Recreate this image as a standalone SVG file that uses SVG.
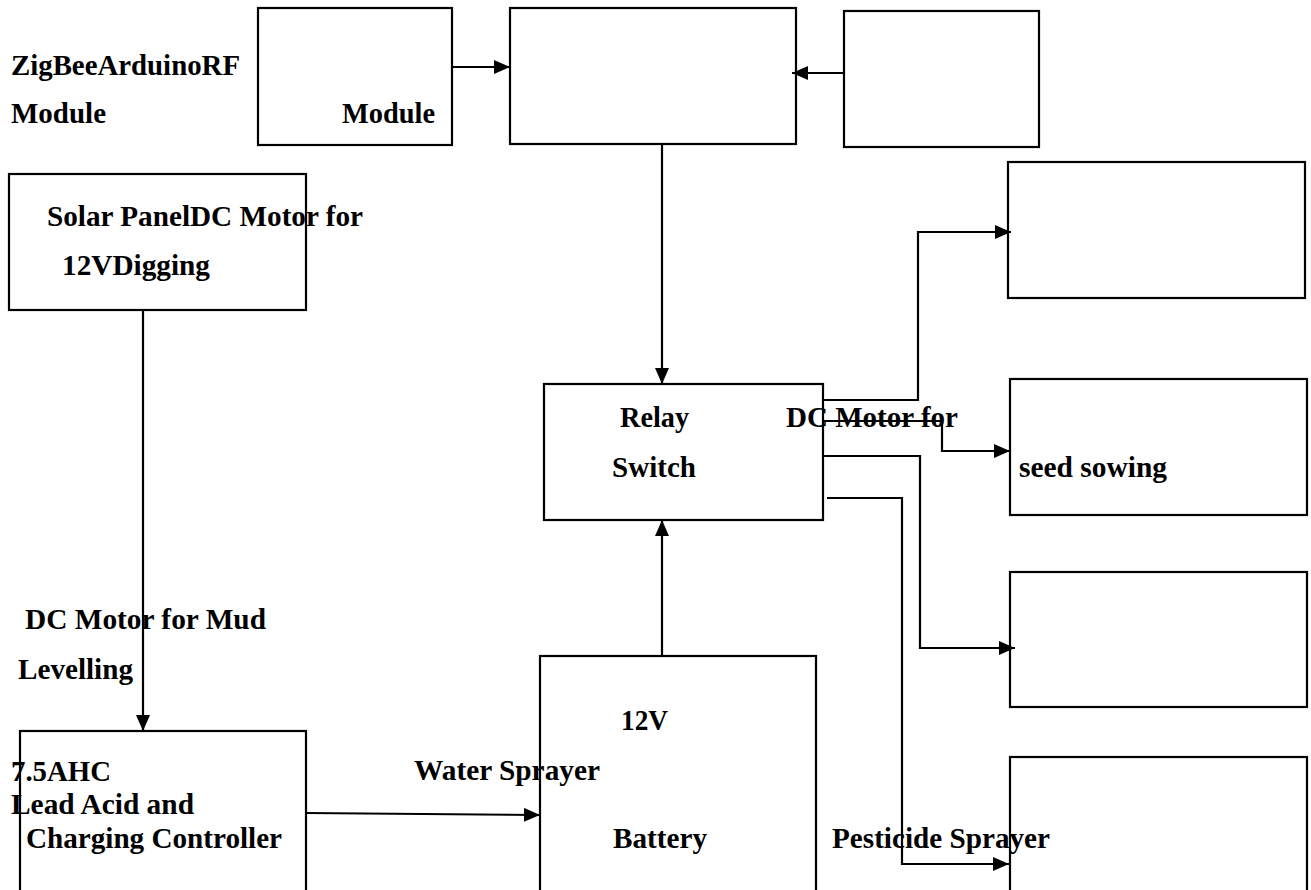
<svg xmlns="http://www.w3.org/2000/svg" width="1311" height="890" viewBox="0 0 1311 890">
<style>
.box{fill:none;stroke:#000;stroke-width:2.2}
.ln{fill:none;stroke:#000;stroke-width:2.2}
.t{font-family:"Liberation Serif","Times New Roman",serif;font-weight:bold;font-size:29px;fill:#000}
</style>
<defs>
<marker id="ah" markerUnits="userSpaceOnUse" markerWidth="16" markerHeight="14" refX="16" refY="7" orient="auto">
<path d="M0,0 L16,7 L0,14 z" fill="#000"/>
</marker>
</defs>
<rect width="1311" height="890" fill="#fff"/>
<g id="connectors">
<line class="ln" x1="452" y1="67" x2="510" y2="67" marker-end="url(#ah)"/>
<line class="ln" x1="844" y1="73" x2="792" y2="73" marker-end="url(#ah)"/>
<line class="ln" x1="662" y1="144" x2="662" y2="384" marker-end="url(#ah)"/>
<line class="ln" x1="143" y1="310" x2="143" y2="731" marker-end="url(#ah)"/>
<line class="ln" x1="662" y1="656" x2="662" y2="520" marker-end="url(#ah)"/>
<line class="ln" x1="306" y1="813" x2="540" y2="815" marker-end="url(#ah)"/>
<polyline class="ln" points="823,400 918,400 918,232 1011,232" marker-end="url(#ah)"/>
<polyline class="ln" points="823,421 942,421 942,451 1010,451" marker-end="url(#ah)"/>
<polyline class="ln" points="823,456 920,456 920,648 1015,648" marker-end="url(#ah)"/>
<polyline class="ln" points="827,498 902,498 902,864 1009,864" marker-end="url(#ah)"/>
</g>
<g id="arduino">
<rect class="box" x="258" y="8" width="194" height="137"/>
</g>
<g id="controller">
<rect class="box" x="510" y="8" width="286" height="136"/>
</g>
<g id="rf">
<rect class="box" x="844" y="11" width="195" height="136"/>
</g>
<g id="solar">
<rect class="box" x="9" y="174" width="297" height="136"/>
</g>
<g id="out1">
<rect class="box" x="1008" y="162" width="297" height="136"/>
</g>
<g id="relay">
<rect class="box" x="544" y="384" width="279" height="136"/>
</g>
<g id="out2">
<rect class="box" x="1010" y="379" width="297" height="136"/>
</g>
<g id="out3">
<rect class="box" x="1010" y="572" width="297" height="135"/>
</g>
<g id="lead">
<rect class="box" x="20" y="731" width="286" height="170"/>
</g>
<g id="battery">
<rect class="box" x="540" y="656" width="276" height="245"/>
</g>
<g id="out4">
<rect class="box" x="1010" y="757" width="297" height="144"/>
</g>
<g id="labels">
<text class="t" x="11" y="75" textLength="229" lengthAdjust="spacingAndGlyphs">ZigBeeArduinoRF</text>
<text class="t" x="11" y="123" textLength="95" lengthAdjust="spacingAndGlyphs">Module</text>
<text class="t" x="342" y="123" textLength="93" lengthAdjust="spacingAndGlyphs">Module</text>
<text class="t" x="47" y="226" textLength="316" lengthAdjust="spacingAndGlyphs">Solar PanelDC Motor for</text>
<text class="t" x="62" y="275" textLength="148" lengthAdjust="spacingAndGlyphs">12VDigging</text>
<text class="t" x="620" y="427" textLength="69" lengthAdjust="spacingAndGlyphs">Relay</text>
<text class="t" x="612" y="477" textLength="84" lengthAdjust="spacingAndGlyphs">Switch</text>
<text class="t" x="786" y="427" textLength="172" lengthAdjust="spacingAndGlyphs">DC Motor for</text>
<text class="t" x="1019" y="477" textLength="148" lengthAdjust="spacingAndGlyphs">seed sowing</text>
<text class="t" x="25" y="629" textLength="241" lengthAdjust="spacingAndGlyphs">DC Motor for Mud</text>
<text class="t" x="18" y="679" textLength="115" lengthAdjust="spacingAndGlyphs">Levelling</text>
<text class="t" x="621" y="730" textLength="47" lengthAdjust="spacingAndGlyphs">12V</text>
<text class="t" x="414" y="780" textLength="186" lengthAdjust="spacingAndGlyphs">Water Sprayer</text>
<text class="t" x="11" y="781" textLength="100" lengthAdjust="spacingAndGlyphs">7.5AHC</text>
<text class="t" x="11" y="814" textLength="183" lengthAdjust="spacingAndGlyphs">Lead Acid and</text>
<text class="t" x="26" y="848" textLength="256" lengthAdjust="spacingAndGlyphs">Charging Controller</text>
<text class="t" x="613" y="848" textLength="94" lengthAdjust="spacingAndGlyphs">Battery</text>
<text class="t" x="832" y="848" textLength="218" lengthAdjust="spacingAndGlyphs">Pesticide Sprayer</text>
</g>
</svg>
